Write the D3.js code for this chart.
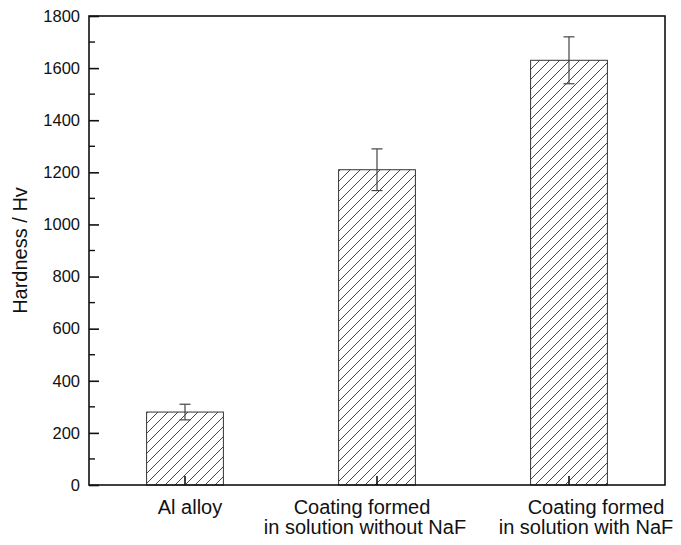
<!DOCTYPE html>
<html>
<head>
<meta charset="utf-8">
<script src="https://cdn.jsdelivr.net/npm/d3@7"></script>
<style>
    body { margin: 0; background: #fff; }
    text { font-family: "Liberation Sans", Arial, sans-serif; fill: #111; }
</style>
</head>
<body>
<svg id="chart" width="681" height="545"></svg>
<script>
// data
var categories = ["Al alloy", "Coating formed|in solution without NaF", "Coating formed|in solution with NaF"];
var hardness = [280, 1210, 1630];
var errors = [30, 80, 90];
var yTicks = [0, 200, 400, 600, 800, 1000, 1200, 1400, 1600, 1800];

var width = 681, height = 545;
var margin = {top: 16, right: 16, bottom: 60, left: 89};

// labels in the original sit a bit off the bar centres (per line nudge)
var labelNudge = [[5], [-15, -12], [27, 17]];

var svg = d3.select("#chart");

// hatch pattern
var defs = svg.append("defs");
var pat = defs.append("pattern")
    .attr("id", "hatch")
    .attr("patternUnits", "userSpaceOnUse")
    .attr("width", 10)
    .attr("height", 10);
pat.append("path")
    .attr("d", "M-2,2 l4,-4 M0,10 l10,-10 M8,12 l4,-4")
    .attr("stroke", "#333")
    .attr("stroke-width", 0.9);

var x = d3.scaleBand()
    .domain(categories)
    .range([margin.left, width - margin.right])
    .paddingInner(0.6)
    .paddingOuter(0.3);

var y = d3.scaleLinear()
    .domain([0, 1800])
    .range([height - margin.bottom, margin.top]);

var g = svg.append("g");

// bars
g.selectAll("rect.bar")
    .data(categories)
    .enter().append("rect")
    .attr("class", "bar")
    .attr("x", function(d) { return x(d); })
    .attr("y", function(d, i) { return y(hardness[i]); })
    .attr("width", x.bandwidth())
    .attr("height", function(d, i) { return y(0) - y(hardness[i]); })
    .attr("fill", "url(#hatch)")
    .attr("stroke", "#333")
    .attr("stroke-width", 1);

// error bars
var eb = g.selectAll("g.err")
    .data(categories)
    .enter().append("g")
    .attr("class", "err")
    .attr("stroke", "#444")
    .attr("stroke-width", 1.2);
eb.append("line")
    .attr("x1", function(d) { return x(d) + x.bandwidth() / 2; })
    .attr("x2", function(d) { return x(d) + x.bandwidth() / 2; })
    .attr("y1", function(d, i) { return y(hardness[i] - errors[i]); })
    .attr("y2", function(d, i) { return y(hardness[i] + errors[i]); });
[-1, 1].forEach(function(s) {
    eb.append("line")
        .attr("x1", function(d) { return x(d) + x.bandwidth() / 2 - 5.5; })
        .attr("x2", function(d) { return x(d) + x.bandwidth() / 2 + 5.5; })
        .attr("y1", function(d, i) { return y(hardness[i] + s * errors[i]); })
        .attr("y2", function(d, i) { return y(hardness[i] + s * errors[i]); });
});

// frame
g.append("rect")
    .attr("x", margin.left)
    .attr("y", margin.top)
    .attr("width", width - margin.left - margin.right)
    .attr("height", height - margin.top - margin.bottom)
    .attr("fill", "none")
    .attr("stroke", "#111")
    .attr("stroke-width", 1.6);

// y axis, ticks point inward
var yAxis = d3.axisLeft(y).tickValues(yTicks).tickSize(-10).tickPadding(9).tickFormat(d3.format("d"));
var ya = g.append("g")
    .attr("transform", "translate(" + margin.left + ",0)")
    .call(yAxis);
ya.select(".domain").remove();
ya.selectAll(".tick line").attr("stroke", "#111").attr("stroke-width", 1.6);
ya.selectAll("text").style("font-size", "16.5px").attr("fill", "#111");

// minor ticks
var minor = d3.range(100, 1800, 200);
g.selectAll("line.minor")
    .data(minor)
    .enter().append("line")
    .attr("x1", margin.left)
    .attr("x2", margin.left + 6)
    .attr("y1", function(d) { return y(d); })
    .attr("y2", function(d) { return y(d); })
    .attr("stroke", "#111")
    .attr("stroke-width", 1.4);

// x axis
var xAxis = d3.axisBottom(x).tickSize(-9).tickFormat("");
var xa = g.append("g")
    .attr("transform", "translate(0," + y(0) + ")")
    .call(xAxis);
xa.select(".domain").remove();
xa.selectAll(".tick line").attr("stroke", "#111").attr("stroke-width", 1.6);

// x labels (two lines)
var lab = g.selectAll("text.xlab")
    .data(categories)
    .enter().append("text")
    .attr("class", "xlab")
    .attr("text-anchor", "middle")
    .style("font-size", "20px");
lab.each(function(d, i) {
    var parts = d.split("|");
    var t = d3.select(this);
    parts.forEach(function(p, k) {
        t.append("tspan")
            .attr("x", x(d) + x.bandwidth() / 2 + labelNudge[i][k])
            .attr("y", y(0) + 29 + k * 20)
            .text(p);
    });
});

// y label
svg.append("text")
    .attr("transform", "translate(27," + (margin.top + (height - margin.top - margin.bottom) / 2) + ") rotate(-90)")
    .attr("text-anchor", "middle")
    .style("font-size", "20px")
    .text("Hardness / Hv");
</script>
</body>
</html>
